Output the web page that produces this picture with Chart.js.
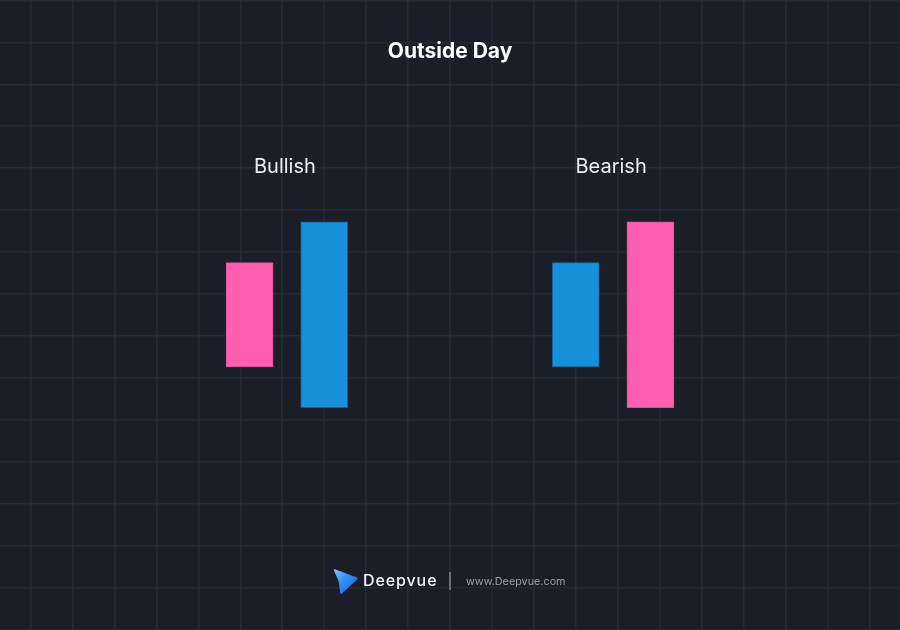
<!DOCTYPE html>
<html lang="en">
<head>
  <meta charset="UTF-8">
  <title>Outside Day</title>
  <script src="https://cdn.jsdelivr.net/npm/chart.js"></script>
  <style>
    html, body { margin: 0; padding: 0; background: #1b1e28; }
    .quadro { position: relative; width: 900px; height: 630px; overflow: hidden; }
    #grafico { position: absolute; left: 0; top: 0; }
    .rodape { position: absolute; left: 0; top: 0; width: 900px; height: 630px; pointer-events: none; }
    .logo { position: absolute; left: 331px; top: 567px; }
    .marca { position: absolute; left: 363px; top: 571px; font: 500 16px Inter, sans-serif; letter-spacing: 0.9px; color: #f1f2f5; line-height: 18px; }
    .barra { position: absolute; left: 449px; top: 572px; width: 1.5px; height: 18px; background: #6c6f79; }
    .site { position: absolute; left: 466px; top: 575px; font: 400 10.8px Inter, sans-serif; letter-spacing: 0; color: #9c9fa7; line-height: 13px; }
  </style>
</head>
<body>
  <div class="quadro">
    <canvas id="grafico" width="900" height="630"></canvas>
    <div class="rodape">
      <svg class="logo" width="30" height="30" viewBox="0 0 30 30">
        <defs>
          <linearGradient id="gradLogo" x1="0" y1="0" x2="1" y2="1">
            <stop offset="0" stop-color="#7cc4ff"/>
            <stop offset="0.45" stop-color="#2f8ef2"/>
            <stop offset="1" stop-color="#1560e0"/>
          </linearGradient>
        </defs>
        <path d="M3 3.5 Q2 2 4 2.3 L26 10.5 Q27.5 11.2 26.4 12.3 L11 26.5 Q9.5 27.6 9.2 25.8 L7.6 14 Z" fill="url(#gradLogo)"/>
      </svg>
      <div class="marca">Deepvue</div>
      <div class="barra"></div>
      <div class="site">www.Deepvue.com</div>
    </div>
  </div>

  <script>
    // dados: dois padrões, cada um com dois candles (ontem / hoje)
    const grupos = ['Bullish', 'Bearish'];
    const posicaoCandle = [5.22, 7.0, 13.0, 14.78];
    const abertura = [8.75, 5.29, 6.26, 9.72];
    const fechamento = [6.26, 9.72, 8.75, 5.29];
    const grupoDoCandle = [0, 0, 1, 1];

    const corAlta = '#1790d9';
    const corBaixa = '#ff5fb1';

    // faixa dos eixos em unidades de grade
    const xMin = -0.732, xMax = 20.732;
    const yMin = -0.01, yMax = 15.01;

    function ticksInteiros(scale) {
      const lista = [];
      for (let v = Math.ceil(scale.min); v <= Math.floor(scale.max); v++) lista.push({ value: v });
      scale.ticks = lista;
    }

    const dados = posicaoCandle.map((x, i) => ({ x: x, y: [abertura[i], fechamento[i]] }));
    const cores = posicaoCandle.map((x, i) => fechamento[i] > abertura[i] ? corAlta : corBaixa);
    const bordas = posicaoCandle.map((x, i) => fechamento[i] > abertura[i] ? '#1a5f93' : '#d4559a');

    const textos = {
      id: 'textos',
      afterDatasetsDraw(chart) {
        const ctx = chart.ctx;
        const sx = chart.scales.x, sy = chart.scales.y;
        ctx.save();
        ctx.textAlign = 'center';
        ctx.textBaseline = 'alphabetic';

        ctx.fillStyle = '#ffffff';
        ctx.font = 'bold 21px Inter';
        ctx.fillText('Outside Day', chart.width / 2, 58);

        ctx.fillStyle = '#eceef2';
        ctx.font = '20px Inter';
        grupos.forEach((nome, g) => {
          const idx = grupoDoCandle.map((gg, i) => gg === g ? i : -1).filter(i => i >= 0);
          const centro = idx.reduce((s, i) => s + posicaoCandle[i], 0) / idx.length;
          const topo = Math.max(...idx.map(i => Math.max(abertura[i], fechamento[i])));
          ctx.fillText(nome, sx.getPixelForValue(centro) - 2, sy.getPixelForValue(topo) - 49);
        });
        ctx.restore();
      }
    };

    new Chart(document.getElementById('grafico').getContext('2d'), {
      type: 'bar',
      data: {
        datasets: [{
          label: 'Outside Day',
          data: dados,
          backgroundColor: cores,
          borderColor: bordas,
          borderWidth: 1,
          borderSkipped: false,
          barThickness: 47,
          grouped: false
        }]
      },
      options: {
        responsive: false,
        animation: false,
        layout: { padding: 0 },
        plugins: {
          legend: { display: false },
          title: { display: false },
          tooltip: { enabled: false }
        },
        scales: {
          x: {
            type: 'linear',
            min: xMin,
            max: xMax,
            offset: false,
            afterBuildTicks: ticksInteiros,
            ticks: { display: false },
            grid: { color: '#252934', lineWidth: 1.6, drawTicks: false, offset: false },
            border: { display: false }
          },
          y: {
            type: 'linear',
            min: yMin,
            max: yMax,
            afterBuildTicks: ticksInteiros,
            ticks: { display: false },
            grid: { color: '#252934', lineWidth: 1.6, drawTicks: false },
            border: { display: false }
          }
        }
      },
      plugins: [textos]
    });
  </script>
</body>
</html>
